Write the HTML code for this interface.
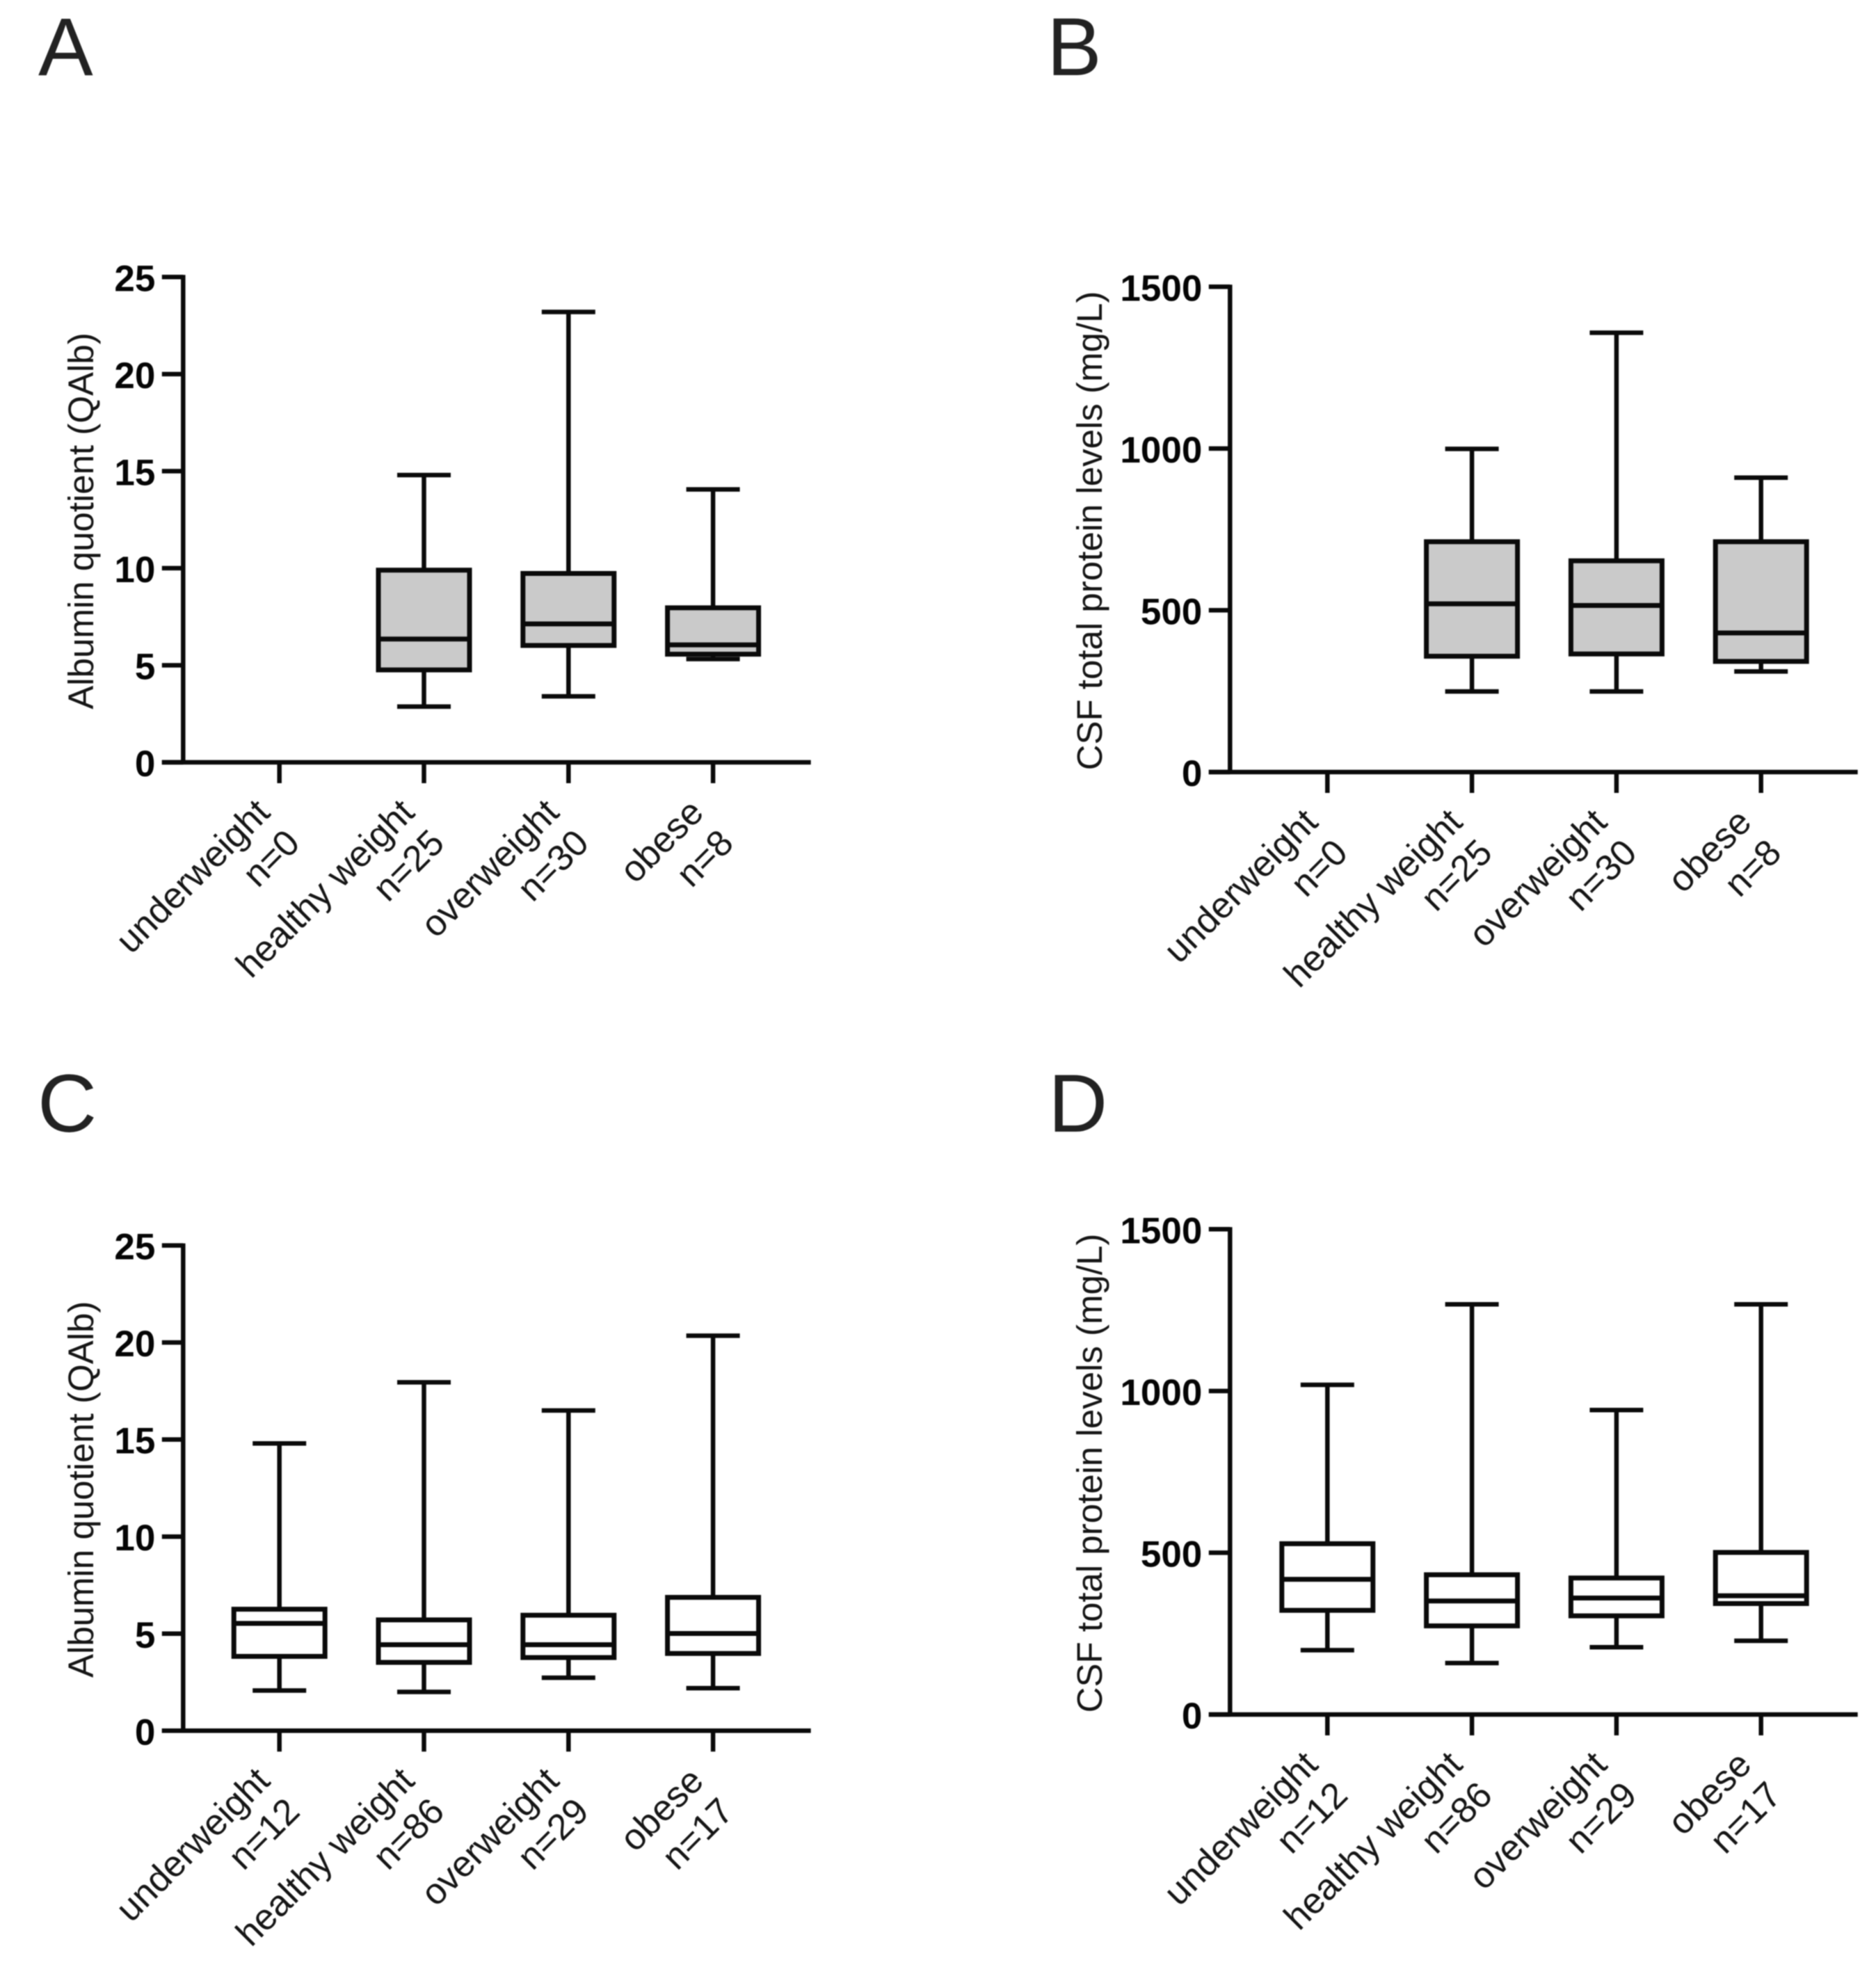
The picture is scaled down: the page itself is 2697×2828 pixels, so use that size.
<!DOCTYPE html>
<html lang="en">
<head>
<meta charset="utf-8">
<title>Albumin quotient and CSF total protein by BMI group</title>
<style>
  html, body { margin: 0; padding: 0; background: #fff; }
  body { width: 2697px; height: 2828px; overflow: hidden; }
  svg { display: block; filter: blur(0.9px); }
  text { font-family: "Liberation Sans", Arial, sans-serif; fill: #111; }
  .tick-label { font-size: 53px; font-weight: bold; fill: #050505; }
  .axis-title { font-size: 51px; fill: #151515; }
  .cat-label { font-size: 52.5px; fill: #151515; }
  .panel-letter { font-size: 118px; fill: #222; }
</style>
</head>
<body>
<svg id="figure" xmlns="http://www.w3.org/2000/svg" width="2697" height="2828" viewBox="0 0 2697 2828">
  <rect x="0" y="0" width="2697" height="2828" fill="#ffffff"/>
  <text class="panel-letter" x="55" y="108">A</text>
  <text class="panel-letter" x="1505" y="108">B</text>
  <text class="panel-letter" x="54" y="1627">C</text>
  <text class="panel-letter" x="1507" y="1627">D</text>
</svg>
<script>
// Shared categories and tick labels
const categories = ["underweight", "healthy weight", "overweight", "obese"];
const countsTop = [0, 25, 30, 8];
const countsBottom = [12, 86, 29, 17];
const qalbTicks = [0, 5, 10, 15, 20, 25];
const proteinTicks = [0, 500, 1000, 1500];

// Panel A: Albumin quotient
const aHigh = [null, 14.8, 23.2, 14.06];
const aQ3 = [null, 9.9, 9.73, 7.96];
const aMedian = [null, 6.35, 7.13, 6.05];
const aQ1 = [null, 4.76, 6.02, 5.57];
const aLow = [null, 2.87, 3.4, 5.32];

// Panel B: CSF total protein
const bHigh = [null, 999, 1358, 910];
const bQ3 = [null, 712, 653, 712];
const bMedian = [null, 520, 515, 430];
const bQ1 = [null, 358, 365, 342];
const bLow = [null, 249, 249, 311];

// Panel C: Albumin quotient
const cHigh = [14.8, 17.95, 16.5, 20.35];
const cQ3 = [6.26, 5.71, 5.95, 6.87];
const cMedian = [5.53, 4.43, 4.43, 5.01];
const cQ1 = [3.83, 3.52, 3.77, 3.98];
const cLow = [2.07, 2.0, 2.73, 2.19];

// Panel D: CSF total protein
const dHigh = [1019, 1268, 941, 1268];
const dQ3 = [528, 432, 422, 501];
const dMedian = [418, 351, 360, 367];
const dQ1 = [322, 274, 305, 343];
const dLow = [199, 159, 208, 228];

const svg = document.getElementById('figure');
const NS = 'http://www.w3.org/2000/svg';

function slug(s) { return s.replace(/\s+/g, '-'); }

function makeLine(parent, x1, y1, x2, y2, w) {
  const l = document.createElementNS(NS, 'line');
  l.setAttribute('x1', x1);
  l.setAttribute('y1', y1);
  l.setAttribute('x2', x2);
  l.setAttribute('y2', y2);
  l.setAttribute('stroke', '#0a0a0a');
  l.setAttribute('stroke-width', w);
  parent.appendChild(l);
  return l;
}

function drawPanel(id, originX, originY, yMax, yTicks, title, titleOffset, tickOffset, counts, fill, high, q3, median, q1, low) {
  const span = 697.7;
  const xScale = function (i) { return originX + tickOffset + 207.8 * i; };
  const yScale = function (v) { return originY - (v / yMax) * span; };

  const g = document.createElementNS(NS, 'g');
  
  
  svg.appendChild(g);

  // Y axis
  const yAxis = makeLine(g, originX, originY + 3, originX, yScale(yMax) - 3, 6.5);
  
  

  yTicks.forEach(function (t) {
    const tick = makeLine(g, originX - 30.5, yScale(t), originX, yScale(t), 6.5);
    
    

    const label = document.createElementNS(NS, 'text');
    label.setAttribute('class', 'tick-label');
    label.setAttribute('x', originX - 40);
    label.setAttribute('y', yScale(t) + 20);
    label.setAttribute('text-anchor', 'end');
    label.textContent = t;
    
    
    g.appendChild(label);
  });

  // Y axis title
  const yt = document.createElementNS(NS, 'text');
  yt.setAttribute('class', 'axis-title');
  yt.setAttribute('text-anchor', 'middle');
  yt.setAttribute('transform', 'translate(' + (originX - titleOffset) + ' ' + (originY - 347) + ') rotate(-90)');
  yt.textContent = title;
  
  
  g.appendChild(yt);

  // X axis
  const xAxis = makeLine(g, originX - 30.5, originY, originX + 902.4, originY, 6.5);
  
  

  categories.forEach(function (cat, i) {
    const x = xScale(i);
    const tick = makeLine(g, x, originY, x, originY + 30, 6.5);
    
    

    const line1 = document.createElementNS(NS, 'text');
    line1.setAttribute('class', 'cat-label');
    line1.setAttribute('text-anchor', 'end');
    line1.setAttribute('transform', 'translate(' + (x - 11) + ' ' + (originY + 75) + ') rotate(-45)');
    line1.textContent = cat;
    
    
    g.appendChild(line1);

    const line2 = document.createElementNS(NS, 'text');
    line2.setAttribute('class', 'cat-label');
    line2.setAttribute('text-anchor', 'end');
    line2.setAttribute('transform', 'translate(' + (x + 32) + ' ' + (originY + 119) + ') rotate(-45)');
    line2.textContent = 'n=' + counts[i];
    
    
    g.appendChild(line2);

    if (high[i] === null) return;

    const box = document.createElementNS(NS, 'g');
    
    
    g.appendChild(box);

    const upper = makeLine(box, x, yScale(high[i]), x, yScale(q3[i]), 6.5);
    
    

    const lower = makeLine(box, x, yScale(q1[i]), x, yScale(low[i]), 6.5);
    
    

    const capTop = makeLine(box, x - 38.5, yScale(high[i]), x + 38.5, yScale(high[i]), 6.5);
    
    

    const capBottom = makeLine(box, x - 38.5, yScale(low[i]), x + 38.5, yScale(low[i]), 6.5);
    
    

    const rect = document.createElementNS(NS, 'rect');
    rect.setAttribute('x', x - 65.5);
    rect.setAttribute('y', yScale(q3[i]));
    rect.setAttribute('width', 131);
    rect.setAttribute('height', yScale(q1[i]) - yScale(q3[i]));
    rect.setAttribute('fill', fill);
    rect.setAttribute('stroke', '#0a0a0a');
    rect.setAttribute('stroke-width', 7);
    
    
    box.appendChild(rect);

    const med = makeLine(box, x - 65.5, yScale(median[i]), x + 65.5, yScale(median[i]), 7);
    
    
  });
}

drawPanel('a', 263.3, 1096, 25, qalbTicks, 'Albumin quotient (QAlb)', 129.5, 138.4, countsTop, '#cacaca', aHigh, aQ3, aMedian, aQ1, aLow);
drawPanel('b', 1768.3, 1110, 1500, proteinTicks, 'CSF total protein levels (mg/L)', 184.5, 140, countsTop, '#cacaca', bHigh, bQ3, bMedian, bQ1, bLow);
drawPanel('c', 263.3, 2488.3, 25, qalbTicks, 'Albumin quotient (QAlb)', 129.5, 138.4, countsBottom, '#ffffff', cHigh, cQ3, cMedian, cQ1, cLow);
drawPanel('d', 1768.3, 2465, 1500, proteinTicks, 'CSF total protein levels (mg/L)', 184.5, 140, countsBottom, '#ffffff', dHigh, dQ3, dMedian, dQ1, dLow);
</script>
</body>
</html>
